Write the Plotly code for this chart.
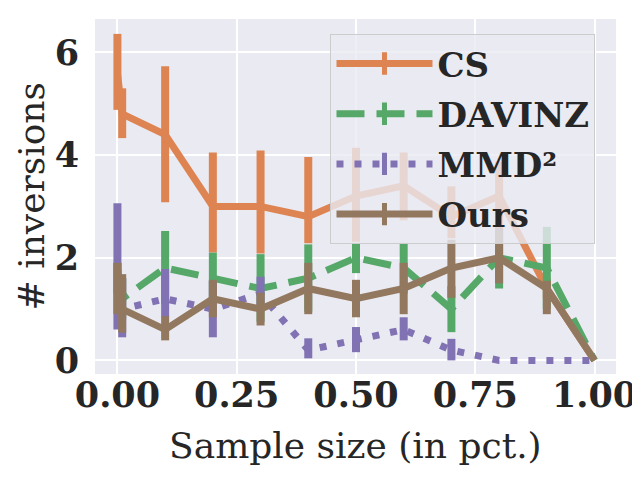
import plotly.graph_objects as go

# sample sizes (fraction of data)
sample_pct = [0, 0.01, 0.1, 0.2, 0.3, 0.4, 0.5, 0.6, 0.7, 0.8, 0.9, 1.0]

# mean number of inversions and CI bounds, per method
cs_mean = [5.6, 4.8, 4.4, 3.0, 3.0, 2.8, 3.2, 3.4, 2.8, 3.2, 1.4, 0]
cs_lo = [4.88, 4.33, 3.08, 2.1, 2.08, 2.28, 2.31, 2.73, 2.38, 2.53, 1.2, 0]
cs_hi = [6.36, 5.3, 5.73, 4.05, 4.09, 3.96, 4.14, 4.05, 3.39, 3.87, 1.6, 0]

davinz_mean = [1.6, 1.2, 1.8, 1.6, 1.4, 1.6, 2.0, 1.8, 1.0, 2.0, 1.8, 0]
davinz_lo = [1.3, 0.8, 1.1, 1.1, 0.75, 0.95, 1.7, 1.3, 0.55, 1.4, 1.0, 0]
davinz_hi = [1.9, 1.6, 2.52, 2.1, 2.07, 2.26, 2.29, 2.29, 1.45, 2.55, 2.6, 0]

mmd_mean = [1.8, 1.0, 1.2, 1.0, 1.3, 0.2, 0.4, 0.6, 0.2, 0, 0, 0]
mmd_lo = [0.6, 0.45, 0.84, 0.45, 0.97, 0.04, 0.16, 0.39, 0.0, 0, 0, 0]
mmd_hi = [3.06, 1.6, 1.78, 1.55, 1.63, 0.43, 0.65, 0.84, 0.42, 0, 0, 0]

ours_mean = [1.4, 1.0, 0.6, 1.2, 1.0, 1.4, 1.2, 1.4, 1.8, 2.0, 1.4, 0]
ours_lo = [0.9, 0.54, 0.39, 0.84, 0.68, 0.9, 0.84, 0.9, 1.22, 1.5, 0.9, 0]
ours_hi = [1.9, 1.68, 0.86, 1.57, 1.32, 1.9, 1.57, 1.9, 2.35, 2.58, 1.55, 0]

x_ticks = [0, 0.25, 0.5, 0.75, 1.0]
x_ticktext = ['0.00', '0.25', '0.50', '0.75', '1.00']
y_ticks = [0, 2, 4, 6]

series = [
    ('CS', cs_mean, cs_lo, cs_hi, '#DD8452', 'solid'),
    ('DAVINZ', davinz_mean, davinz_lo, davinz_hi, '#55A868', '28px,12px'),
    ('MMD²', mmd_mean, mmd_lo, mmd_hi, '#8172B3', '7px,11px'),
    ('Ours', ours_mean, ours_lo, ours_hi, '#937860', 'solid'),
]

FONT = 'DejaVu Serif'
FS = 35
LW = 7

fig = go.Figure()

for name, mean, lo, hi, color, dash in series:
    plus = [h - m for h, m in zip(hi, mean)]
    minus = [m - l for m, l in zip(mean, lo)]
    fig.add_trace(go.Scatter(
        x=sample_pct, y=mean, mode='lines', showlegend=False,
        line=dict(color=color, width=LW, dash=dash),
        error_y=dict(type='data', array=plus, arrayminus=minus,
                     color=color, thickness=LW + 1, width=0),
    ))

# legend-only entries so the key shows the error-bar tick
for i, (name, mean, lo, hi, color, dash) in enumerate(series):
    fig.add_trace(go.Scatter(
        x=[None], y=[None], mode='lines+markers', name=name,
        legendgroup=f'g{i}',
        line=dict(color=color, width=LW, dash=dash),
        marker=dict(symbol='line-ns', size=32, color=color,
                    line=dict(color=color, width=LW + 1)),
    ))

# the page body adds an 8px offset, so margins are shifted back by 8
fig.update_layout(
    width=640, height=480,
    margin=dict(l=87, r=32, t=11, b=114),
    paper_bgcolor='white',
    plot_bgcolor='#EAEAF2',
    font=dict(family=FONT, color='#262626', size=FS),
    legend=dict(
        x=0.452, y=0.958, xanchor='left', yanchor='top',
        bgcolor='rgba(234,234,242,0.8)',
        bordercolor='#CCCCCC', borderwidth=1,
        font=dict(family=FONT, size=FS - 1, weight='bold', color='#262626'),
        tracegroupgap=3, itemwidth=96,
    ),
    xaxis=dict(
        range=[-0.047, 1.045],
        tickvals=x_ticks, ticktext=x_ticktext,
        tickfont=dict(family=FONT, size=FS, weight='bold'),
        gridcolor='white', gridwidth=1.5, zeroline=False, showline=False,
        ticks='', ticklabelstandoff=-3,
        automargin=False,
    ),
    yaxis=dict(
        range=[-0.265, 6.65],
        tickvals=y_ticks,
        tickfont=dict(family=FONT, size=FS, weight='bold'),
        gridcolor='white', gridwidth=1.5, zeroline=False, showline=False,
        ticks='outside', ticklen=8, tickcolor='rgba(0,0,0,0)',
        automargin=False,
    ),
    annotations=[
        dict(text='Sample size (in pct.)', xref='paper', yref='paper',
             x=0.5, y=-0.2, xanchor='center', yanchor='middle',
             showarrow=False, font=dict(family=FONT, size=36)),
        dict(text='# inversions', xref='paper', yref='paper',
             x=-0.121, y=0.5, xanchor='center', yanchor='middle',
             textangle=-90, showarrow=False, font=dict(family=FONT, size=36)),
    ],
)

fig.write_html('out.html')
